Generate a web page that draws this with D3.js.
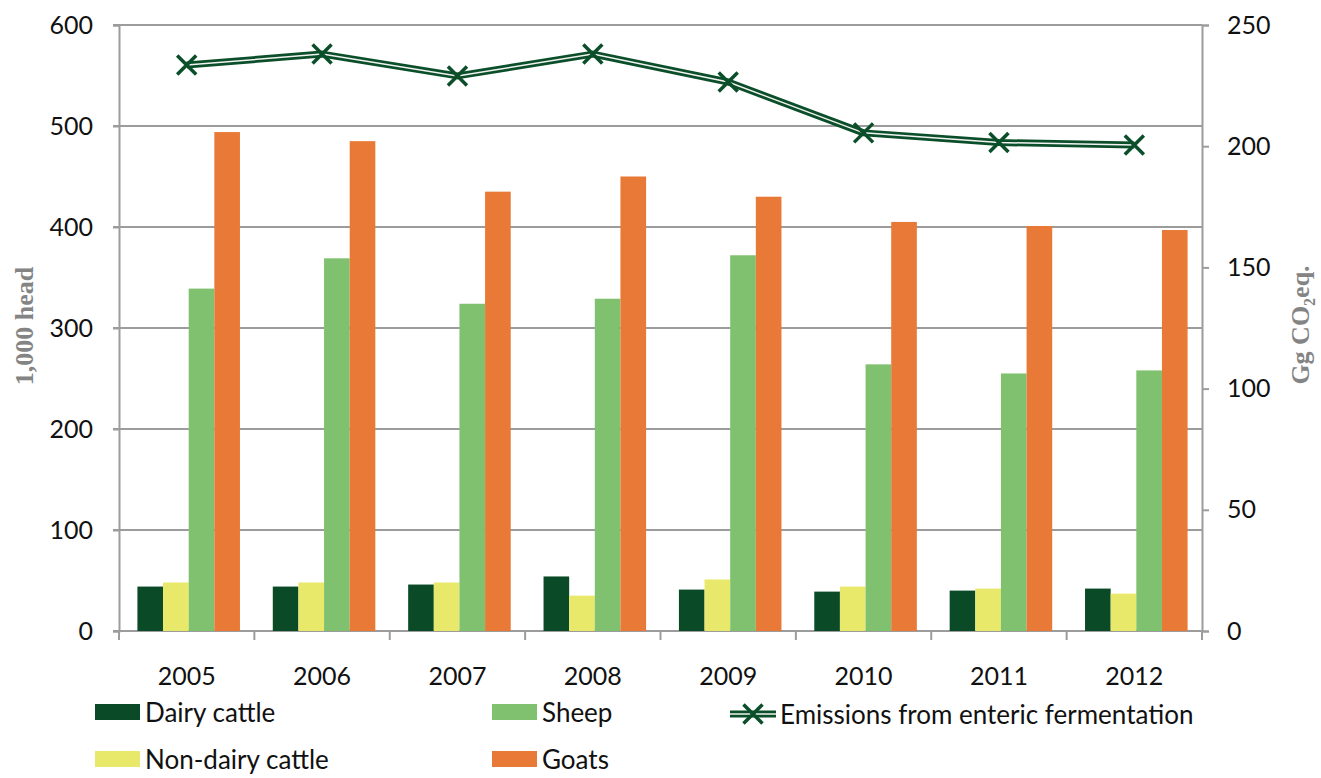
<!DOCTYPE html>
<html>
<head>
<meta charset="utf-8">
<script src="https://cdn.jsdelivr.net/npm/d3@7"></script>
<style>
  body { margin: 0; background: #fff; }
  svg text { font-family: Lato, "Open Sans", sans-serif; fill: #111; }
  .axTitle { font-family: "Liberation Serif", serif !important; font-weight: bold; fill: #848484 !important; }
</style>
</head>
<body>
<div id="chart"></div>
<script>
// livestock numbers (1,000 head) and enteric fermentation emissions (Gg CO2 eq.)
var years = ["2005", "2006", "2007", "2008", "2009", "2010", "2011", "2012"];
var dairy = [44, 44, 46, 54, 41, 39, 40, 42];
var nonDairy = [48, 48, 48, 35, 51, 44, 42, 37];
var sheep = [339, 369, 324, 329, 372, 264, 255, 258];
var goats = [494, 485, 435, 450, 430, 405, 401, 397];
var emissions = [233.5, 238, 229, 238, 226.5, 205.5, 201.5, 200.5];
var leftTicks = [0, 100, 200, 300, 400, 500, 600];
var rightTicks = [0, 50, 100, 150, 200, 250];

var keys = ["dairy", "nonDairy", "sheep", "goats"];
var names = { dairy: "Dairy cattle", nonDairy: "Non-dairy cattle", sheep: "Sheep", goats: "Goats" };
var color = d3.scaleOrdinal().domain(keys).range(["#0b4a27", "#e8e86a", "#80c16f", "#e97936"]);
var lineCol = "#0b4f2a";
var gridCol = "#9c9c9c";

var width = 1321, height = 778;
var margin = { top: 25, right: 119, bottom: 147, left: 119 };

var svg = d3.select("#chart").append("svg")
  .attr("width", width)
  .attr("height", height);

var x0 = d3.scaleBand().domain(years).range([margin.left, width - margin.right]).paddingInner(0).paddingOuter(0);
var x1 = d3.scaleBand().domain(keys).range([0, x0.bandwidth()]).paddingInner(0).paddingOuter(0.64);
var y = d3.scaleLinear().domain([0, 600]).range([height - margin.bottom, margin.top]);
var y2 = d3.scaleLinear().domain([0, 250]).range([height - margin.bottom, margin.top]);

var rows = years.map(function(yr, i) {
  return { year: yr, dairy: dairy[i], nonDairy: nonDairy[i], sheep: sheep[i], goats: goats[i], em: emissions[i] };
});

// gridlines
svg.append("g").selectAll("line")
  .data(leftTicks.slice(1))
  .enter().append("line")
  .attr("x1", margin.left - 6).attr("x2", width - margin.right)
  .attr("y1", function(d) { return y(d); }).attr("y2", function(d) { return y(d); })
  .attr("stroke", gridCol).attr("stroke-width", 2);

// left axis
var gl = svg.append("g")
  .attr("transform", "translate(" + margin.left + ",0)")
  .call(d3.axisLeft(y).tickValues(leftTicks).tickSize(6).tickPadding(20));
// right axis
var gr = svg.append("g")
  .attr("transform", "translate(" + (width - margin.right) + ",0)")
  .call(d3.axisRight(y2).tickValues(rightTicks).tickSize(7).tickPadding(18));
// bottom axis, ticks at category boundaries
var gb = svg.append("g")
  .attr("transform", "translate(0," + y(0) + ")")
  .call(d3.axisBottom(x0).tickSize(0).tickPadding(36));
gb.selectAll(".bnd")
  .data(years.concat(["end"]))
  .enter().append("line")
  .attr("x1", function(d, i) { return margin.left + i * x0.step(); })
  .attr("x2", function(d, i) { return margin.left + i * x0.step(); })
  .attr("y1", 0).attr("y2", 9)
  .attr("stroke", gridCol).attr("stroke-width", 2);

[gl, gr, gb].forEach(function(g) {
  g.select(".domain").attr("stroke", gridCol).attr("stroke-width", 2);
  g.selectAll(".tick line").attr("stroke", gridCol).attr("stroke-width", 2);
  g.selectAll(".tick text").attr("font-size", 25).attr("fill", "#111").style("font-family", "Lato, sans-serif");
});
gb.select(".domain").attr("d", "M" + (margin.left - 6) + ",0H" + (width - margin.right));

// bars
svg.append("g").selectAll("g")
  .data(rows)
  .enter().append("g")
  .attr("transform", function(d) { return "translate(" + x0(d.year) + ",0)"; })
  .selectAll("rect")
  .data(function(d) { return keys.map(function(k) { return { key: k, value: d[k] }; }); })
  .enter().append("rect")
  .attr("x", function(d) { return x1(d.key) + 2; })
  .attr("width", x1.bandwidth())
  .attr("y", function(d) { return y(d.value); })
  .attr("height", function(d) { return y(0) - y(d.value); })
  .attr("fill", function(d) { return color(d.key); });

// emissions line (double line style)
var line = d3.line()
  .x(function(d) { return x0(d.year) + x0.bandwidth() / 2; })
  .y(function(d) { return y2(d.em); });
svg.append("path").datum(rows).attr("d", line)
  .attr("fill", "none").attr("stroke", lineCol).attr("stroke-width", 7).attr("stroke-linejoin", "round");
svg.append("path").datum(rows).attr("d", line)
  .attr("fill", "none").attr("stroke", "#f2f2f2").attr("stroke-width", 1.5);

function cross(g, s) {
  g.append("path")
    .attr("d", "M" + (-s) + "," + (-s) + "L" + s + "," + s + "M" + (-s) + "," + s + "L" + s + "," + (-s))
    .attr("stroke", lineCol).attr("stroke-width", 3.5).attr("fill", "none");
}
svg.append("g").selectAll("g")
  .data(rows)
  .enter().append("g")
  .attr("transform", function(d) { return "translate(" + line.x()(d) + "," + line.y()(d) + ")"; })
  .each(function() { cross(d3.select(this), 9.5); });

// axis titles
svg.append("text").attr("class", "axTitle")
  .attr("transform", "translate(33,326) rotate(-90)")
  .attr("text-anchor", "middle").attr("font-size", 26)
  .text("1,000 head");
var rt = svg.append("text").attr("class", "axTitle")
  .attr("transform", "translate(1309,325) rotate(-90)")
  .attr("text-anchor", "middle").attr("font-size", 26);
rt.append("tspan").text("Gg CO");
rt.append("tspan").attr("font-size", 16).attr("dy", 6).text("2");
rt.append("tspan").attr("dy", -6).text("eq.");

// legend
var legendItems = [
  { key: "dairy", x: 95, y: 712 },
  { key: "sheep", x: 492, y: 712 },
  { key: "nonDairy", x: 95, y: 759 },
  { key: "goats", x: 492, y: 759 }
];
var lg = svg.append("g").selectAll("g")
  .data(legendItems)
  .enter().append("g")
  .attr("transform", function(d) { return "translate(" + d.x + "," + d.y + ")"; });
lg.append("rect").attr("x", 0).attr("y", -8).attr("width", 45).attr("height", 16)
  .attr("fill", function(d) { return color(d.key); });
lg.append("text").attr("x", 50).attr("y", 10).attr("font-size", 26)
  .text(function(d) { return names[d.key]; });

var le = svg.append("g").attr("transform", "translate(730,714)");
le.append("line").attr("x1", 0).attr("x2", 46).attr("stroke", lineCol).attr("stroke-width", 7);
le.append("line").attr("x1", 0).attr("x2", 46).attr("stroke", "#f2f2f2").attr("stroke-width", 1.5);
cross(le.append("g").attr("transform", "translate(23,0)"), 9.5);
le.append("text").attr("x", 50).attr("y", 10).attr("font-size", 26).text("Emissions from enteric fermentation");
</script>
</body>
</html>
